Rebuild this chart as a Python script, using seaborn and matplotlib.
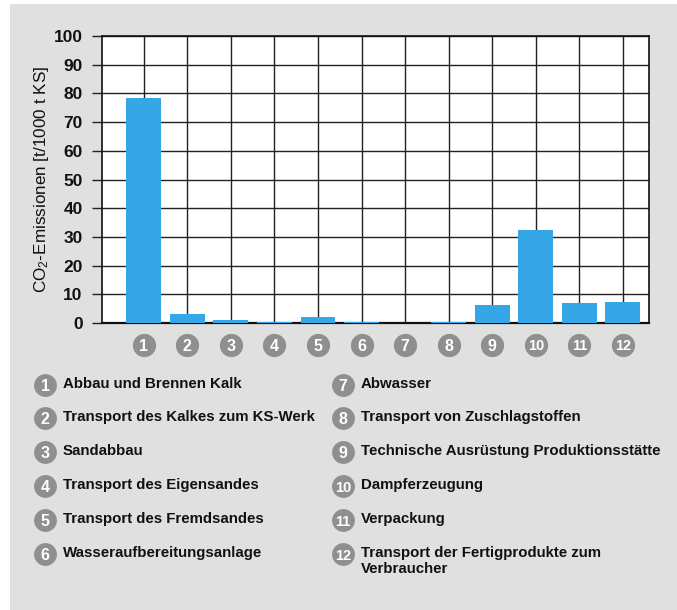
import matplotlib
matplotlib.use("Agg")
import matplotlib.pyplot as plt
import matplotlib.transforms as mtransforms
import seaborn as sns
import pandas as pd

# data
steps = ["1", "2", "3", "4", "5", "6", "7", "8", "9", "10", "11", "12"]
emissions = [78.3, 3.1, 1.0, 0.5, 2.0, 0.5, 0.0, 0.5, 6.3, 32.5, 7.0, 7.3]
labels = [
    "Abbau und Brennen Kalk",
    "Transport des Kalkes zum KS-Werk",
    "Sandabbau",
    "Transport des Eigensandes",
    "Transport des Fremdsandes",
    "Wasseraufbereitungsanlage",
    "Abwasser",
    "Transport von Zuschlagstoffen",
    "Technische Ausrüstung Produktionsstätte",
    "Dampferzeugung",
    "Verpackung",
    "Transport der Fertigprodukte zum\nVerbraucher",
]
y_ticks = list(range(0, 101, 10))

BAR = "#36a7e6"
BADGE = "#8f8f8f"
PANEL = "#e0e0e0"
INK = "#111111"

sns.set_theme(style="white")
plt.rcParams["font.family"] = ["Liberation Sans", "DejaVu Sans"]
plt.rcParams["mathtext.default"] = "regular"

W, H = 677, 610
fig = plt.figure(figsize=(W / 100, H / 100), dpi=100)
fig.patch.set_facecolor("white")

# gray panel behind everything
bg = fig.add_axes([0, 0, 1, 1], zorder=-5)
bg.set_xlim(0, W)
bg.set_ylim(H, 0)
bg.axis("off")
bg.add_patch(plt.Rectangle((10, 4), W - 10, H - 4, color=PANEL, linewidth=0))

left, right, top, bottom = 102, 649, 36, 323
ax = fig.add_axes([left / W, 1 - bottom / H, (right - left) / W, (bottom - top) / H])
ax.set_facecolor("white")

df = pd.DataFrame({"step": steps, "value": emissions})
sns.barplot(data=df, x="step", y="value", color=BAR, saturation=1, width=0.8,
            linewidth=0, ax=ax, zorder=3)

ax.set_xlim(-0.96, 11.6)
ax.set_ylim(0, 100)
ax.set_yticks(y_ticks)
ax.set_yticklabels([str(t) for t in y_ticks], fontsize=12.5, fontweight="bold", color=INK)
ax.set_xticks(range(len(steps)))
ax.set_xticklabels([])
ax.tick_params(axis="y", direction="out", length=7, width=1, color="#222222", pad=7, left=True)
ax.tick_params(axis="x", length=0)
ax.grid(True, color="#222222", linewidth=1, zorder=1)
ax.set_axisbelow(True)
for s in ax.spines.values():
    s.set_color(INK)
    s.set_linewidth(1.2)
    s.set_visible(True)
ax.spines["bottom"].set_linewidth(1.6)
ax.spines["bottom"].set_zorder(2.5)

ax.set_xlabel("")
ax.set_ylabel("CO$_2$-Emissionen [t/1000 t KS]", fontsize=12.3, color=INK, labelpad=2)

# numbered badges under the bars
trans = mtransforms.blended_transform_factory(ax.transData, ax.transAxes)
badge_y = (bottom - 345) / (bottom - top)
ax.scatter(range(len(steps)), [badge_y] * len(steps), s=280, color=BADGE,
           transform=trans, clip_on=False, zorder=5, linewidths=0)
for i, s in enumerate(steps):
    ax.text(i, badge_y, s, transform=trans, ha="center", va="center_baseline",
            color="white", fontsize=11.5 if len(s) == 1 else 10.5, fontweight="bold",
            zorder=6)

# legend below the chart
leg = fig.add_axes([0, 0, 1, 1])
leg.set_xlim(0, W)
leg.set_ylim(H, 0)
leg.axis("off")
row_y = [385, 418, 452, 486, 520, 554]
for i, (s, lab) in enumerate(zip(steps, labels)):
    col, row = divmod(i, 6)
    cx = 45 if col == 0 else 343
    cy = row_y[row]
    leg.scatter([cx], [cy], s=270, color=BADGE, linewidths=0, zorder=5)
    leg.text(cx, cy, s, ha="center", va="center_baseline", color="white",
             fontsize=11.5 if len(s) == 1 else 10.5, fontweight="bold", zorder=6)
    leg.text(cx + 18, cy - 8, lab, ha="left", va="top", fontsize=10.8, fontweight="bold",
             color=INK, linespacing=1.2)

fig.savefig("out.png", dpi=100, facecolor=fig.get_facecolor())
